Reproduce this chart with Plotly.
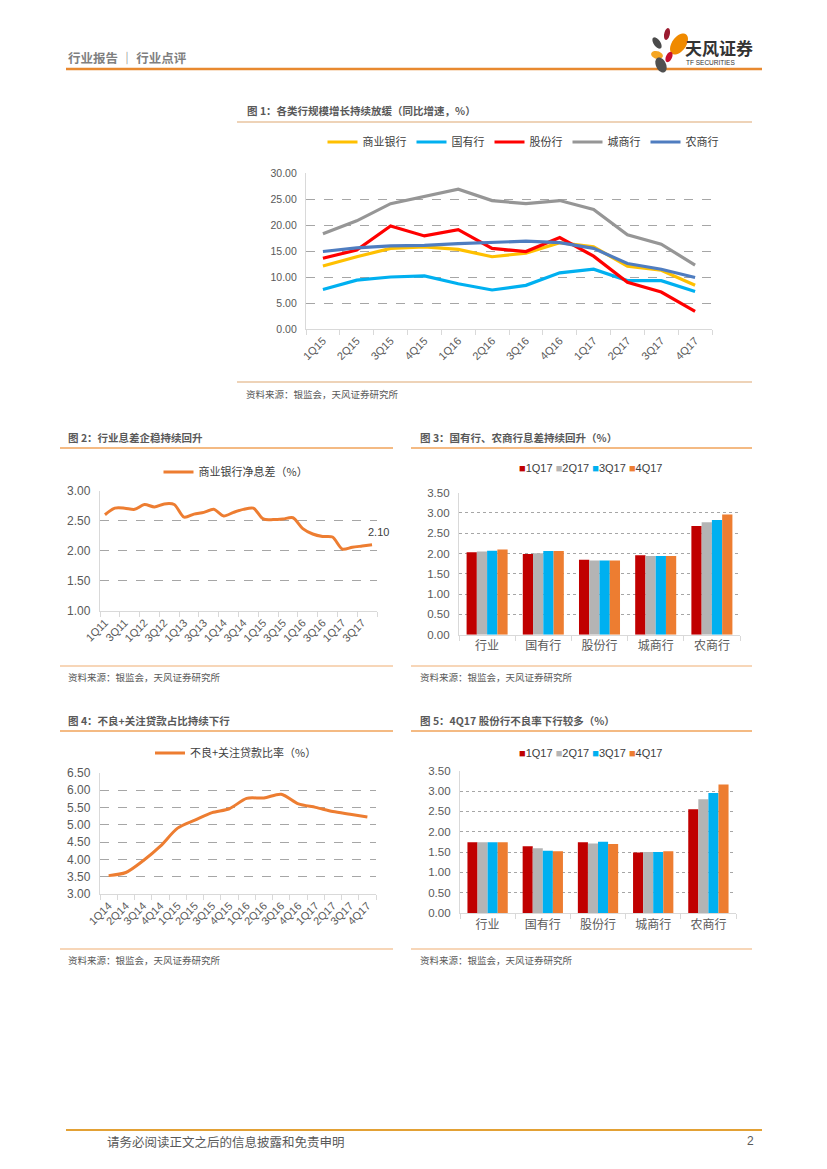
import math
import plotly.graph_objects as go

# ---------------- data ----------------
quarters_1 = ["1Q15", "2Q15", "3Q15", "4Q15", "1Q16", "2Q16", "3Q16", "4Q16", "1Q17", "2Q17", "3Q17", "4Q17"]
growth_commercial = [12.1, 13.9, 15.5, 15.8, 15.3, 13.9, 14.6, 16.6, 15.8, 12.1, 11.3, 8.4]
growth_state = [7.6, 9.4, 10.0, 10.2, 8.7, 7.5, 8.4, 10.8, 11.5, 9.3, 9.3, 7.2]
growth_joint = [13.6, 15.2, 19.8, 17.9, 19.1, 15.5, 14.9, 17.6, 14.0, 9.0, 7.1, 3.4]
growth_city = [18.3, 20.8, 24.1, 25.5, 26.9, 24.7, 24.1, 24.7, 23.0, 18.1, 16.3, 12.3]
growth_rural = [14.9, 15.6, 16.0, 16.1, 16.4, 16.6, 16.9, 16.6, 15.5, 12.6, 11.5, 9.9]

quarters_2 = [f"{q}Q{y}" for y in range(11, 18) for q in range(1, 5)]
nim_industry = [2.60, 2.71, 2.71, 2.69, 2.77, 2.73, 2.78, 2.77, 2.56, 2.61, 2.64, 2.69,
                2.58, 2.64, 2.69, 2.71, 2.53, 2.52, 2.53, 2.55, 2.37, 2.28, 2.24, 2.23,
                2.03, 2.06, 2.08, 2.10]

bank_types = ["行业", "国有行", "股份行", "城商行", "农商行"]
bar_quarters = ["1Q17", "2Q17", "3Q17", "4Q17"]
nim_1q17 = [2.03, 1.99, 1.85, 1.96, 2.68]
nim_2q17 = [2.05, 2.01, 1.83, 1.94, 2.77]
nim_3q17 = [2.07, 2.06, 1.83, 1.94, 2.83]
nim_4q17 = [2.10, 2.06, 1.83, 1.94, 2.96]

quarters_4 = [f"{q}Q{y}" for y in range(14, 18) for q in range(1, 5)]
npl_sm_ratio = [3.53, 3.62, 3.96, 4.38, 4.90, 5.13, 5.35, 5.46, 5.76, 5.77, 5.88, 5.60,
                5.50, 5.38, 5.30, 5.22]

npl_1q17 = [1.74, 1.64, 1.74, 1.49, 2.55]
npl_2q17 = [1.74, 1.59, 1.71, 1.50, 2.80]
npl_3q17 = [1.74, 1.53, 1.75, 1.50, 2.95]
npl_4q17 = [1.74, 1.52, 1.70, 1.52, 3.16]

# ---------------- styles ----------------
LINE_COLORS = ["#FFC000", "#00B0F0", "#FF0000", "#969696", "#4F7DC0"]
BAR_COLORS = ["#C00000", "#B4B4B4", "#00B0F0", "#ED7D31"]
ORANGE = "#ED7D31"
NUM_FONT = "Liberation Sans, Noto Sans CJK SC"
CJK_FONT = "Noto Sans CJK SC, Liberation Sans"
TICK_COLOR = "#595959"
GRID = "#A6A6A6"
AXLINE = "#D9D9D9"

PAGE_W, PAGE_H = 827, 1169


def px(x):
    return x / PAGE_W


def py(y):
    return 1 - y / PAGE_H


fig = go.Figure()

# chart 1 lines
names_1 = ["商业银行", "国有行", "股份行", "城商行", "农商行"]
series_1 = [growth_commercial, growth_state, growth_joint, growth_city, growth_rural]
for i in range(5):
    fig.add_trace(go.Scatter(x=quarters_1, y=series_1[i], name=names_1[i], mode="lines",
                             line=dict(color=LINE_COLORS[i], width=3.2),
                             xaxis="x", yaxis="y", legend="legend", legendrank=i))

# chart 2 line
fig.add_trace(go.Scatter(x=quarters_2, y=nim_industry, name="商业银行净息差（%）", mode="lines",
                         line=dict(color=ORANGE, width=3, shape="spline", smoothing=0.8),
                         xaxis="x2", yaxis="y2", legend="legend2"))

# chart 3 bars
for q, vals, c in zip(bar_quarters, [nim_1q17, nim_2q17, nim_3q17, nim_4q17], BAR_COLORS):
    fig.add_trace(go.Bar(x=bank_types, y=vals, name=q, marker=dict(color=c, line_width=0),
                         xaxis="x3", yaxis="y3", showlegend=False))

# chart 4 line
fig.add_trace(go.Scatter(x=quarters_4, y=npl_sm_ratio, name="不良+关注贷款比率（%）", mode="lines",
                         line=dict(color=ORANGE, width=3, shape="spline", smoothing=0.8),
                         xaxis="x4", yaxis="y4", legend="legend3"))

# chart 5 bars
for q, vals, c in zip(bar_quarters, [npl_1q17, npl_2q17, npl_3q17, npl_4q17], BAR_COLORS):
    fig.add_trace(go.Bar(x=bank_types, y=vals, name=q, marker=dict(color=c, line_width=0),
                         xaxis="x5", yaxis="y5", showlegend=False))


def xaxis_cfg(left, right, anchor, cats, angle=0, size=10, dtick=None):
    d = dict(domain=[px(left), px(right)], anchor=anchor, type="category", automargin=False,
             categoryorder="array", categoryarray=cats,
             range=[-0.5, len(cats) - 0.5], autorange=False,
             showline=True, linecolor=AXLINE, linewidth=1.3, ticks="outside", ticklen=5,
             tickcolor=AXLINE, tickson="boundaries", showgrid=False, zeroline=False,
             tickangle=angle, tickfont=dict(family=CJK_FONT if angle == 0 else NUM_FONT,
                                            size=size, color=TICK_COLOR))
    if dtick:
        d.update(tickmode="linear", tick0=0, dtick=dtick)
    return d


def yaxis_cfg(top, bottom, anchor, rng, dtick, dash, size=10):
    return dict(domain=[py(bottom), py(top)], anchor=anchor, range=rng, dtick=dtick,
                automargin=False,
                tickformat=".2f", showgrid=True, gridcolor=GRID, griddash=dash, gridwidth=1,
                showline=True, linecolor=AXLINE, linewidth=1.3, zeroline=False, ticks="",
                ticklabelstandoff=6,
                tickfont=dict(family=NUM_FONT, size=size, color=TICK_COLOR))


annotations = []
shapes = []


def text(x, y, s, size, color="#404040", anchor="left", bold=False, family=CJK_FONT):
    annotations.append(dict(x=px(x), y=py(y), xref="paper", yref="paper", text=s,
                            showarrow=False, xanchor=anchor, yanchor="middle",
                            font=dict(family=family, size=size, color=color,
                                      weight="bold" if bold else "normal")))


def hline(x0, x1, y, color, width):
    shapes.append(dict(type="line", xref="paper", yref="paper", x0=px(x0), x1=px(x1),
                       y0=py(y), y1=py(y), line=dict(color=color, width=width)))


def petal(cx, cy, a, b, ang, color):
    r = math.radians(ang)
    pts = []
    for i in range(40):
        t = 2 * math.pi * i / 40
        x0, y0 = a * math.cos(t), b * math.sin(t)
        x = cx + x0 * math.cos(r) - y0 * math.sin(r)
        y = cy + x0 * math.sin(r) + y0 * math.cos(r)
        pts.append(f"{px(x):.5f},{py(y):.5f}")
    shapes.append(dict(type="path", xref="paper", yref="paper",
                       path="M " + " L ".join(pts) + " Z", fillcolor=color, line_width=0))


# header
text(66, 57, "行业报告 ｜ 行业点评", 12.5, "#7F7F7F", bold=True)
hline(66, 762, 69, "#E8892F", 2.5)
petal(667, 34, 2.8, 6, 12, "#9B1B30")
petal(657, 43, 3.3, 6.5, -35, "#4A4A4A")
petal(679, 44, 7, 12, 35, "#F08A00")
petal(657, 55, 6, 3.8, 15, "#F5A623")
petal(669, 57, 3, 5.5, 25, "#C8102E")
petal(661, 65, 5, 8, -25, "#505050")
text(683, 47, "天风证券", 17, "#333333", bold=True)
text(684, 63, "TF SECURITIES", 6.5, "#333333", family=NUM_FONT)

# chart 1 frame
text(245, 110, "图 1：各类行规模增长持续放缓（同比增速，%）", 10.5, "#595959", bold=True)
hline(237, 752, 122, "#E9C4A0", 1.5)
hline(237, 752, 382, "#E9C4A0", 1.5)
text(244, 394, "资料来源：银监会，天风证券研究所", 9.5, "#595959")

# chart 2 frame
text(66, 437, "图 2：行业息差企稳持续回升", 10.5, "#595959", bold=True)
hline(60, 393, 448, "#F0A35A", 1.5)
hline(60, 393, 666, "#F5C9A0", 1.5)
text(66, 677, "资料来源：银监会，天风证券研究所", 9.5, "#595959")

# chart 3 frame
text(418, 437, "图 3：国有行、农商行息差持续回升（%）", 10.5, "#595959", bold=True)
hline(411, 752, 448, "#F0A35A", 1.5)
hline(411, 752, 666, "#F5C9A0", 1.5)
text(418, 677, "资料来源：银监会，天风证券研究所", 9.5, "#595959")

# chart 4 frame
text(66, 720, "图 4：不良+关注贷款占比持续下行", 10.5, "#595959", bold=True)
hline(60, 393, 731, "#F0A35A", 1.5)
hline(60, 393, 949, "#F5C9A0", 1.5)
text(66, 960, "资料来源：银监会，天风证券研究所", 9.5, "#595959")

# chart 5 frame
text(418, 720, "图 5：4Q17 股份行不良率下行较多（%）", 10.5, "#595959", bold=True)
hline(411, 752, 731, "#F0A35A", 1.5)
hline(411, 752, 949, "#F5C9A0", 1.5)
text(418, 960, "资料来源：银监会，天风证券研究所", 9.5, "#595959")

# bar legends (compact)
bar_legend = "&nbsp;".join(f"<span style='color:{c}'>■</span>{q}" for q, c in zip(bar_quarters, BAR_COLORS))
text(590, 468, bar_legend, 11, "#404040", anchor="center", family=NUM_FONT)
text(590, 753, bar_legend, 11, "#404040", anchor="center", family=NUM_FONT)

# footer
hline(66, 762, 1130, "#E3A135", 2)
text(105, 1141, "请务必阅读正文之后的信息披露和免责申明", 12.5, "#595959")
text(756, 1141, "2", 12, "#595959", anchor="right", family=NUM_FONT)

# data label on chart 2
annotations.append(dict(x=quarters_2[-1], y=nim_industry[-1], xref="x2", yref="y2",
                        text=f"{nim_industry[-1]:.2f}", showarrow=False, yanchor="bottom",
                        yshift=5, xshift=6, font=dict(family=NUM_FONT, size=11, color="#404040")))

legend_common = dict(orientation="h", xanchor="center", yanchor="middle",
                     bgcolor="rgba(0,0,0,0)", itemwidth=30, tracegroupgap=0,
                     font=dict(family=CJK_FONT, size=11, color="#404040"))

fig.update_layout(
    template="none",
    width=PAGE_W, height=PAGE_H, margin=dict(l=0, r=0, t=0, b=0, pad=0, autoexpand=False),
    paper_bgcolor="white", plot_bgcolor="white",
    barmode="group", bargap=0.27, bargroupgap=0,
    showlegend=True,
    legend=dict(x=px(523), y=py(142), **legend_common),
    legend2=dict(x=px(236), y=py(472), **legend_common),
    legend3=dict(x=px(236), y=py(753), **legend_common),
    xaxis=xaxis_cfg(306, 712, "y", quarters_1, angle=-45, size=11),
    yaxis=yaxis_cfg(173, 329, "x", [0, 30], 5, "dash", size=10.5),
    xaxis2=xaxis_cfg(100, 377, "y2", quarters_2, angle=-45, size=11, dtick=2),
    yaxis2=yaxis_cfg(490.7, 611, "x2", [1, 3], 0.5, "dash", size=12),
    xaxis3=xaxis_cfg(459, 740, "y3", bank_types, size=12),
    yaxis3=yaxis_cfg(492.7, 634.7, "x3", [0, 3.5], 0.5, "dot", size=11.5),
    xaxis4=xaxis_cfg(100, 376, "y4", quarters_4, angle=-45, size=11),
    yaxis4=yaxis_cfg(772.7, 894, "x4", [3, 6.5], 0.5, "dash", size=12),
    xaxis5=xaxis_cfg(460, 736, "y5", bank_types, size=12),
    yaxis5=yaxis_cfg(770.7, 913, "x5", [0, 3.5], 0.5, "dot", size=11.5),
    annotations=annotations,
    shapes=shapes,
)

fig.write_html("out.html", config={"displayModeBar": False},
               post_script="document.body.style.margin='0';document.body.style.overflow='hidden';")
